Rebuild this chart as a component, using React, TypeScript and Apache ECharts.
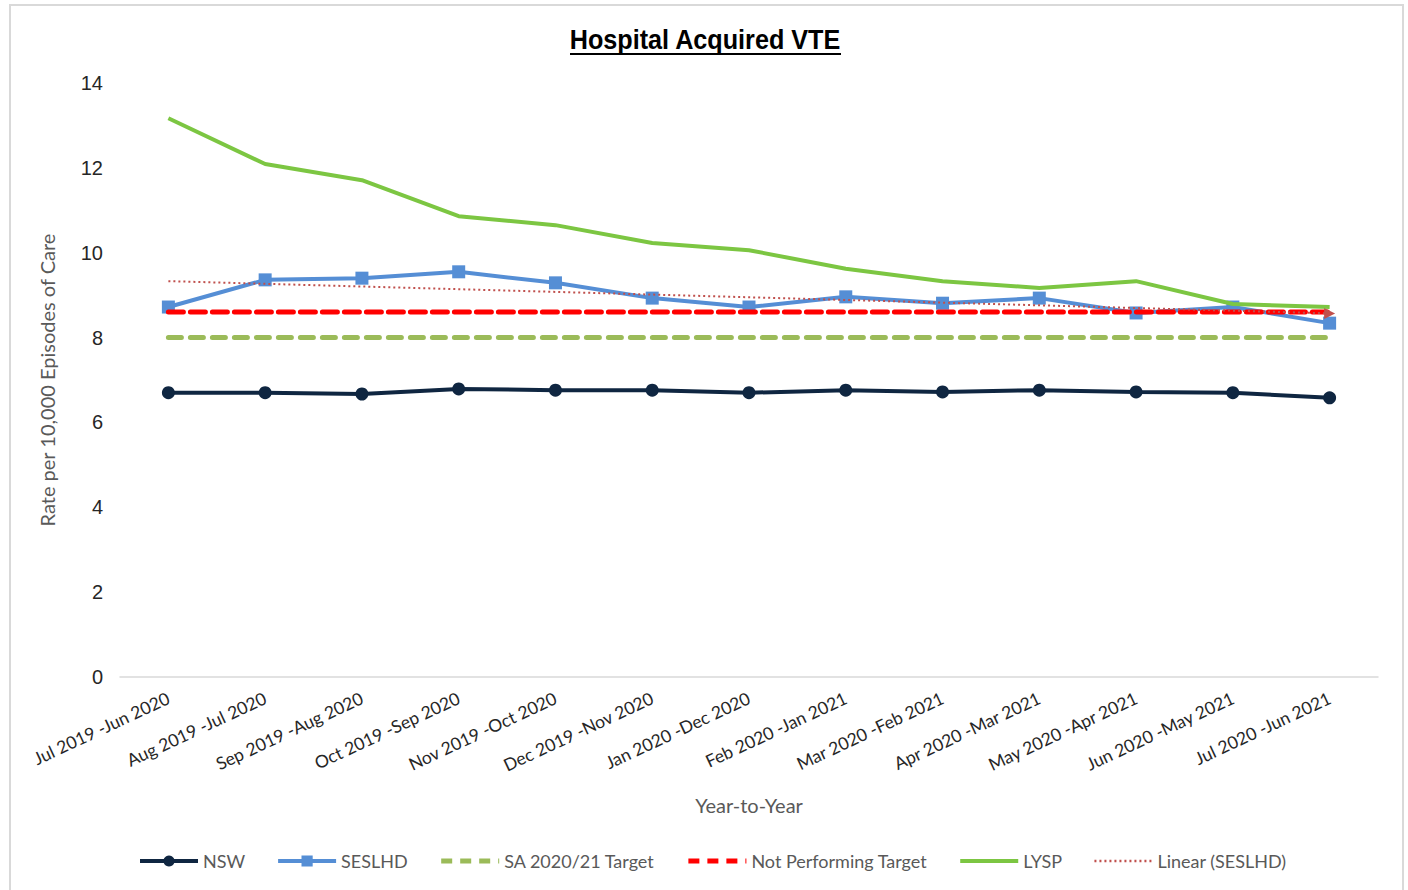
import React, { useEffect, useRef } from "react";
import * as echarts from "echarts";

const categories = [
  "Jul 2019 -Jun 2020",
  "Aug 2019 -Jul 2020",
  "Sep 2019 -Aug 2020",
  "Oct 2019 -Sep 2020",
  "Nov 2019 -Oct 2020",
  "Dec 2019 -Nov 2020",
  "Jan 2020 -Dec 2020",
  "Feb 2020 -Jan 2021",
  "Mar 2020 -Feb 2021",
  "Apr 2020 -Mar 2021",
  "May 2020 -Apr 2021",
  "Jun 2020 -May 2021",
  "Jul 2020 -Jun 2021",
];

const nsw = [6.70, 6.70, 6.67, 6.79, 6.76, 6.76, 6.70, 6.76, 6.72, 6.76, 6.72, 6.70, 6.58];
const seslhd = [8.72, 9.36, 9.40, 9.55, 9.29, 8.93, 8.72, 8.96, 8.81, 8.93, 8.58, 8.72, 8.34];
const saTarget = [8.0, 8.0, 8.0, 8.0, 8.0, 8.0, 8.0, 8.0, 8.0, 8.0, 8.0, 8.0, 8.0];
const notPerforming = [8.6, 8.6, 8.6, 8.6, 8.6, 8.6, 8.6, 8.6, 8.6, 8.6, 8.6, 8.6, 8.6];
const lysp = [13.17, 12.09, 11.71, 10.86, 10.65, 10.23, 10.06, 9.62, 9.33, 9.17, 9.33, 8.79, 8.72];
const linearStart = 9.33;
const linearEnd = 8.57;

const yTicks = { min: 0, max: 14, interval: 2 };

const labelFont = "Lato, 'Open Sans', sans-serif";
const narrowFont = "'Liberation Sans Narrow', 'Arial Narrow', 'Liberation Sans', sans-serif";

export default function App() {
  const ref = useRef<HTMLDivElement>(null);

  useEffect(() => {
    document.body.style.margin = "0";
    const chart = echarts.init(ref.current!, null, { renderer: "svg" });
    const linearData: any[] = categories.map((_, i) =>
      i === 0 ? linearStart : i === categories.length - 1
        ? { value: linearEnd, symbol: "triangle", symbolSize: 11, symbolRotate: -90 }
        : null
    );
    const hidden = { opacity: 0 };
    chart.setOption({
      animation: false,
      backgroundColor: "#ffffff",
      graphic: [
        {
          type: "rect",
          shape: { x: 10, y: 5, width: 1393, height: 900 },
          style: { fill: "none", stroke: "#d9d9d9", lineWidth: 2 },
          silent: true,
        },
        {
          type: "text",
          x: 705,
          y: 40,
          scaleX: 0.9,
          style: {
            text: "Hospital Acquired VTE",
            font: `bold 28px ${narrowFont}`,
            fill: "#000000",
            align: "center",
            verticalAlign: "middle",
          },
        },
        {
          type: "line",
          shape: { x1: 570, y1: 54, x2: 841, y2: 54 },
          style: { stroke: "#000000", lineWidth: 2 },
        },
      ],
      grid: { left: 120, right: 30, top: 83, bottom: 213, containLabel: false },
      legend: {
        bottom: 15,
        left: 133,
        itemWidth: 58,
        itemHeight: 14,
        itemGap: 31,
        textStyle: { color: "#595959", fontSize: 18, fontFamily: labelFont },
        data: [
          { name: "NSW", lineStyle: { width: 4 } },
          { name: "SESLHD", lineStyle: { width: 4 } },
          { name: "SA 2020/21 Target", itemStyle: hidden, lineStyle: { width: 5, type: [11, 8], cap: "butt" } },
          { name: "Not Performing Target", itemStyle: hidden, lineStyle: { width: 5, type: [11, 8], cap: "butt" } },
          { name: "LYSP", itemStyle: hidden, lineStyle: { width: 4 } },
          { name: "Linear (SESLHD)", itemStyle: hidden, lineStyle: { width: 2.5, type: [2, 3] } },
        ],
      },
      xAxis: {
        type: "category",
        data: categories,
        boundaryGap: true,
        name: "Year-to-Year",
        nameLocation: "middle",
        nameGap: 118,
        nameTextStyle: { color: "#595959", fontSize: 20, fontFamily: labelFont },
        axisLine: { show: true, lineStyle: { color: "#d9d9d9", width: 1.5 } },
        axisTick: { show: false },
        axisLabel: {
          rotate: 25,
          interval: 0,
          margin: 20,
          color: "#262626",
          fontSize: 17.5,
          fontFamily: labelFont,
        },
        splitLine: { show: false },
      },
      yAxis: {
        type: "value",
        min: yTicks.min,
        max: yTicks.max,
        interval: yTicks.interval,
        name: "Rate per 10,000 Episodes of Care",
        nameLocation: "middle",
        nameGap: 63,
        nameTextStyle: { color: "#595959", fontSize: 20, fontFamily: labelFont },
        axisLine: { show: false },
        axisTick: { show: false },
        axisLabel: { color: "#262626", fontSize: 20, fontFamily: narrowFont, margin: 17 },
        splitLine: { show: false },
      },
      series: [
        {
          name: "NSW",
          type: "line",
          data: nsw,
          symbol: "circle",
          symbolSize: 13,
          itemStyle: { color: "#0f2641" },
          lineStyle: { color: "#0f2641", width: 4 },
          z: 3,
        },
        {
          name: "SESLHD",
          type: "line",
          data: seslhd,
          symbol: "rect",
          symbolSize: 13,
          itemStyle: { color: "#558ed5" },
          lineStyle: { color: "#558ed5", width: 4 },
          z: 3,
        },
        {
          name: "SA 2020/21 Target",
          type: "line",
          data: saTarget,
          symbol: "none",
          itemStyle: { color: "#9bbb59" },
          lineStyle: { color: "#9bbb59", width: 5, type: [13, 9], cap: "round" },
          z: 3,
        },
        {
          name: "Not Performing Target",
          type: "line",
          data: notPerforming,
          symbol: "none",
          itemStyle: { color: "#ff0000" },
          lineStyle: { color: "#ff0000", width: 5, type: [15, 7], cap: "round" },
          z: 4,
        },
        {
          name: "LYSP",
          type: "line",
          data: lysp,
          symbol: "none",
          itemStyle: { color: "#7cc642" },
          lineStyle: { color: "#7cc642", width: 4 },
          z: 4,
        },
        {
          name: "Linear (SESLHD)",
          type: "line",
          data: linearData,
          connectNulls: true,
          symbol: "none",
          itemStyle: { color: "#c0504d" },
          lineStyle: { color: "#c0504d", width: 2, type: [2, 3] },
          z: 5,
        },
      ],
    });
    return () => chart.dispose();
  }, []);

  return <div ref={ref} style={{ width: 1408, height: 890 }} />;
}
